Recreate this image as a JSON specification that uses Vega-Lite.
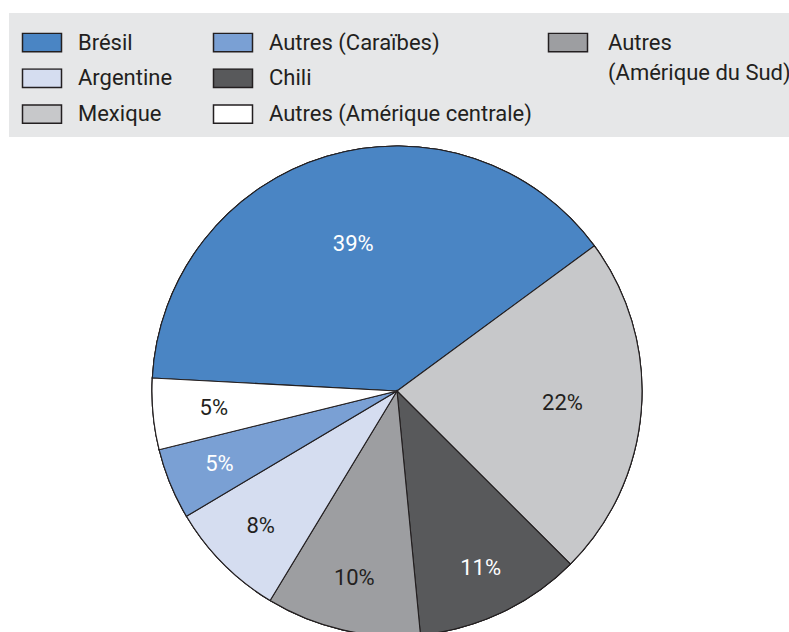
{
  "$schema": "https://vega.github.io/schema/vega-lite/v6.json",
  "background": "white",
  "padding": {"left": 9, "top": 13, "right": 0, "bottom": 0},
  "bounds": "flush",
  "spacing": 0,
  "config": {
    "view": {"stroke": null},
    "font": "Roboto, sans-serif",
    "legend": {
      "orient": "none",
      "direction": "vertical",
      "title": null,
      "padding": 0,
      "symbolType": "M-0.975,-0.46H0.975V0.46H-0.975Z",
      "symbolSize": 1600,
      "symbolStrokeWidth": 1.5,
      "symbolStrokeColor": "#231f20",
      "clipHeight": 20,
      "rowPadding": 13.8,
      "labelOffset": 15,
      "labelFont": "Roboto, sans-serif",
      "labelFontSize": 22,
      "labelColor": "#231f20",
      "labelLimit": 400
    }
  },
  "vconcat": [
    {
      "width": 780,
      "height": 124,
      "view": {"fill": "#e6e7e8", "stroke": null},
      "data": {"values": []},
      "mark": {"type": "point", "opacity": 0},
      "encoding": {}
    },
    {
      "width": 776,
      "height": 495,
      "view": {"stroke": null},
      "data": {
        "values": [
          {"pays": "Brésil", "part": 39.1, "etiquette": "39%", "ordre": 1},
          {"pays": "Mexique", "part": 22.6, "etiquette": "22%", "ordre": 2},
          {"pays": "Chili", "part": 11.0, "etiquette": "11%", "ordre": 3},
          {"pays": "Autres (Amérique du Sud)", "part": 10.2, "etiquette": "10%", "ordre": 4},
          {"pays": "Argentine", "part": 7.8, "etiquette": "8%", "ordre": 5},
          {"pays": "Autres (Caraïbes)", "part": 4.7, "etiquette": "5%", "ordre": 6},
          {"pays": "Autres (Amérique centrale)", "part": 4.7, "etiquette": "5%", "ordre": 7}
        ]
      },
      "encoding": {
        "theta": {"field": "part", "type": "quantitative", "stack": true, "scale": {"range": [4.7656, 11.0488]}},
        "order": {"field": "ordre", "type": "quantitative"}
      },
      "layer": [
        {
          "mark": {"type": "arc", "outerRadius": 245, "stroke": "#231f20", "strokeWidth": 1.1, "clip": true, "yOffset": 6.5},
          "encoding": {
            "color": {
              "field": "pays", "type": "nominal",
              "scale": {
                "domain": ["Brésil", "Argentine", "Mexique", "Autres (Caraïbes)", "Chili", "Autres (Amérique centrale)", "Autres (Amérique du Sud)"],
                "range": ["#4a85c4", "#d5ddf0", "#c7c8ca", "#7aa0d4", "#58595b", "#ffffff", "#9d9ea1"]
              },
              "legend": {"values": ["Brésil", "Argentine", "Mexique"], "legendX": 12, "legendY": -104.5}
            }
          }
        },
        {
          "mark": {"type": "arc", "outerRadius": 245, "stroke": "#231f20", "strokeWidth": 1.1, "clip": true, "yOffset": 6.5},
          "encoding": {
            "color": {
              "field": "pays", "type": "nominal",
              "scale": {
                "domain": ["Brésil", "Argentine", "Mexique", "Autres (Caraïbes)", "Chili", "Autres (Amérique centrale)", "Autres (Amérique du Sud)"],
                "range": ["#4a85c4", "#d5ddf0", "#c7c8ca", "#7aa0d4", "#58595b", "#ffffff", "#9d9ea1"]
              },
              "legend": {"values": ["Autres (Caraïbes)", "Chili", "Autres (Amérique centrale)"], "legendX": 203, "legendY": -104.5}
            }
          }
        },
        {
          "mark": {"type": "arc", "outerRadius": 245, "stroke": "#231f20", "strokeWidth": 1.1, "clip": true, "yOffset": 6.5},
          "encoding": {
            "color": {
              "field": "pays", "type": "nominal",
              "scale": {
                "domain": ["Brésil", "Argentine", "Mexique", "Autres (Caraïbes)", "Chili", "Autres (Amérique centrale)", "Autres (Amérique du Sud)"],
                "range": ["#4a85c4", "#d5ddf0", "#c7c8ca", "#7aa0d4", "#58595b", "#ffffff", "#9d9ea1"]
              },
              "legend": {
                "values": ["Autres (Amérique du Sud)"],
                "legendX": 538, "legendY": -104.5,
                "labelOffset": 19,
                "labelLimit": 400,
                "labelExpr": "datum.label == 'Autres (Amérique du Sud)' ? ['Autres', '(Amérique du Sud)'] : datum.label",
                "encode": {"labels": {"update": {"lineHeight": {"value": 30}}}}
              }
            }
          }
        },
        {
          "mark": {
            "type": "text",
            "radius": {"expr": "datum.ordre == 1 ? 153 : datum.ordre == 2 ? 166 : datum.ordre == 3 ? 196 : datum.ordre == 7 ? 184 : 192"},
            "yOffset": 6.5,
            "fontSize": 22,
            "font": "Roboto, sans-serif",
            "align": "center",
            "baseline": "middle"
          },
          "encoding": {
            "text": {"field": "etiquette", "type": "nominal"},
            "color": {
              "condition": {"test": {"field": "pays", "oneOf": ["Brésil", "Autres (Caraïbes)", "Chili"]}, "value": "#ffffff"},
              "value": "#231f20"
            }
          }
        }
      ],
      "resolve": {"scale": {"color": "independent"}, "legend": {"color": "independent"}}
    }
  ]
}
